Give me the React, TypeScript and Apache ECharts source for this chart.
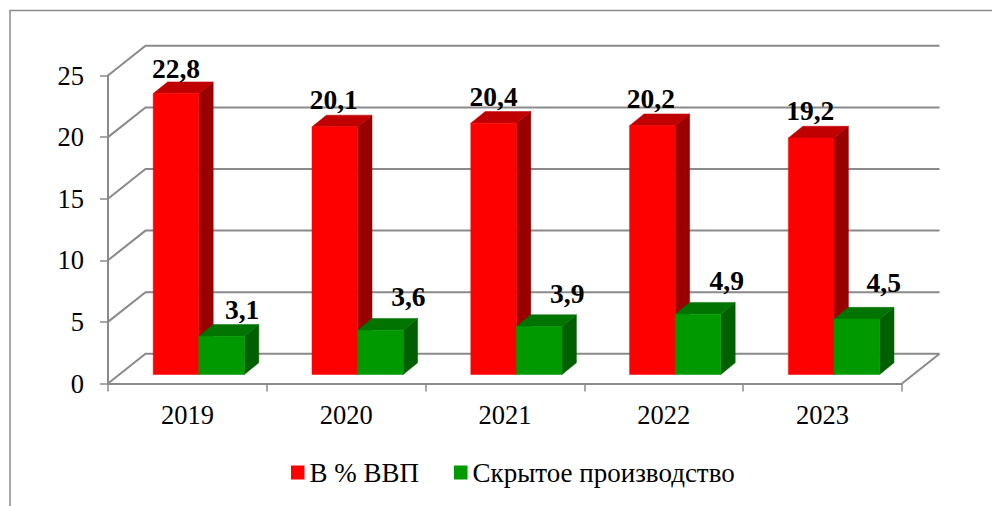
import React, { useEffect, useRef } from "react";
import * as echarts from "echarts";

const categories = ["2019", "2020", "2021", "2022", "2023"];
const seriesRedName = "В % ВВП";
const seriesGreenName = "Скрытое производство";
const redValues = [22.8, 20.1, 20.4, 20.2, 19.2];
const greenValues = [3.1, 3.6, 3.9, 4.9, 4.5];
const yTicks = [0, 5, 10, 15, 20, 25];

// hand-placed data label offsets from the top-centre of each bar's front face
const redLabelOffsets = [[0, -25.5], [-1, -27], [0, -26.5], [-1.5, -27.5], [-1, -27]];
const greenLabelOffsets = [[20.5, -27], [28, -33.5], [28, -32.5], [28.7, -34], [27, -37]];

const FONT = '"Liberation Serif", serif';
const AXIS = "#8a8a8a";
const WALL_DX = 37.5, WALL_DY = 29.7;
const BAR_W = 45.6, BAR_DX = 14.4, BAR_DY = 11.7;
const BASE_DX = 11.4, BASE_DY = 9;

const poly = (points: number[][], fill: string) => ({
  type: "polygon",
  shape: { points },
  style: { fill, stroke: fill, lineWidth: 0.5 },
});

const barSeries = (name: string, values: number[], slot: number, front: string, top: string, side: string, offsets: number[][]) => ({
  type: "custom",
  name,
  clip: false,
  z: 3,
  itemStyle: { color: front },
  data: values.map((v, i) => [i, v]),
  encode: { x: 0, y: 1 },
  renderItem: (_p: any, api: any) => {
    const i = api.value(0), v = api.value(1);
    const [cx, yTop0] = api.coord([i, v]);
    const [, yBase0] = api.coord([i, 0]);
    const x0 = cx + BASE_DX - BAR_W + slot * BAR_W, x1 = x0 + BAR_W;
    const yT = yTop0 - BASE_DY, yB = yBase0 - BASE_DY;
    const [ox, oy] = offsets[i];
    return {
      type: "group",
      children: [
        poly([[x1, yT], [x1 + BAR_DX, yT - BAR_DY], [x1 + BAR_DX, yB - BAR_DY], [x1, yB]], side),
        poly([[x0, yT], [x0 + BAR_DX, yT - BAR_DY], [x1 + BAR_DX, yT - BAR_DY], [x1, yT]], top),
        poly([[x0, yT], [x1, yT], [x1, yB], [x0, yB]], front),
        {
          type: "text",
          z2: 10,
          style: {
            x: (x0 + x1) / 2 + ox,
            y: yT + oy,
            text: String(v).replace(".", ","),
            font: `bold 27.5px ${FONT}`,
            fill: "#000",
            align: "center",
            verticalAlign: "middle",
          },
        },
      ],
    };
  },
});

export default function App() {
  const ref = useRef<HTMLDivElement>(null);
  useEffect(() => {
    const chart = echarts.init(ref.current!, undefined, { renderer: "svg" });
    chart.setOption({
      animation: false,
      backgroundColor: "#fff",
      graphic: [
        {
          type: "rect",
          shape: { x: 10, y: 10.5, width: 1100, height: 700 },
          style: { fill: "none", stroke: AXIS, lineWidth: 1.5 },
          silent: true,
          z: -1,
        },
      ],
      grid: { left: 108, right: 90, top: 75.5, bottom: 122.5 },
      xAxis: {
        type: "category",
        data: categories,
        boundaryGap: true,
        axisLine: { show: true, lineStyle: { color: AXIS, width: 2 } },
        axisTick: { show: true, length: 8, lineStyle: { color: AXIS, width: 1.5 } },
        axisLabel: { color: "#000", fontFamily: FONT, fontSize: 26.5, margin: 18 },
        splitLine: { show: false },
      },
      yAxis: {
        type: "value",
        min: 0,
        max: 25,
        interval: 5,
        axisLine: { show: true, lineStyle: { color: AXIS, width: 2 } },
        axisTick: { show: true, length: 8, lineStyle: { color: AXIS, width: 1.5 } },
        axisLabel: { color: "#000", fontFamily: FONT, fontSize: 26.5, margin: 24 },
        splitLine: { show: false },
      },
      legend: {
        data: [seriesRedName, seriesGreenName],
        left: 291,
        top: 459,
        padding: 0,
        itemWidth: 13.5,
        itemHeight: 14,
        itemGap: 35,
        icon: "rect",
        textStyle: { color: "#000", fontFamily: FONT, fontSize: 27 },
      },
      series: [
        {
          type: "custom",
          name: "wall",
          silent: true,
          clip: false,
          z: 1,
          data: yTicks.map((t) => [0, t]),
          encode: { x: 0, y: 1 },
          renderItem: (p: any, api: any) => {
            const { x, width } = p.coordSys;
            const [, y] = api.coord([0, api.value(1)]);
            const style = { fill: "none", stroke: AXIS, lineWidth: 2 };
            const children: any[] = [
              {
                type: "polyline",
                shape: { points: [[x, y], [x + WALL_DX, y - WALL_DY], [x + width + WALL_DX, y - WALL_DY]] },
                style,
              },
            ];
            if (api.value(1) === 0) {
              children.push({
                type: "line",
                shape: { x1: x + width, y1: y, x2: x + width + WALL_DX, y2: y - WALL_DY },
                style,
              });
            }
            return { type: "group", children };
          },
        },
        barSeries(seriesRedName, redValues, 0, "#ff0000", "#c00000", "#990000", redLabelOffsets),
        barSeries(seriesGreenName, greenValues, 1, "#009a00", "#007300", "#006000", greenLabelOffsets),
      ],
    });
    return () => chart.dispose();
  }, []);
  return <div ref={ref} style={{ position: "absolute", left: 0, top: 0, width: 992, height: 506 }} />;
}
